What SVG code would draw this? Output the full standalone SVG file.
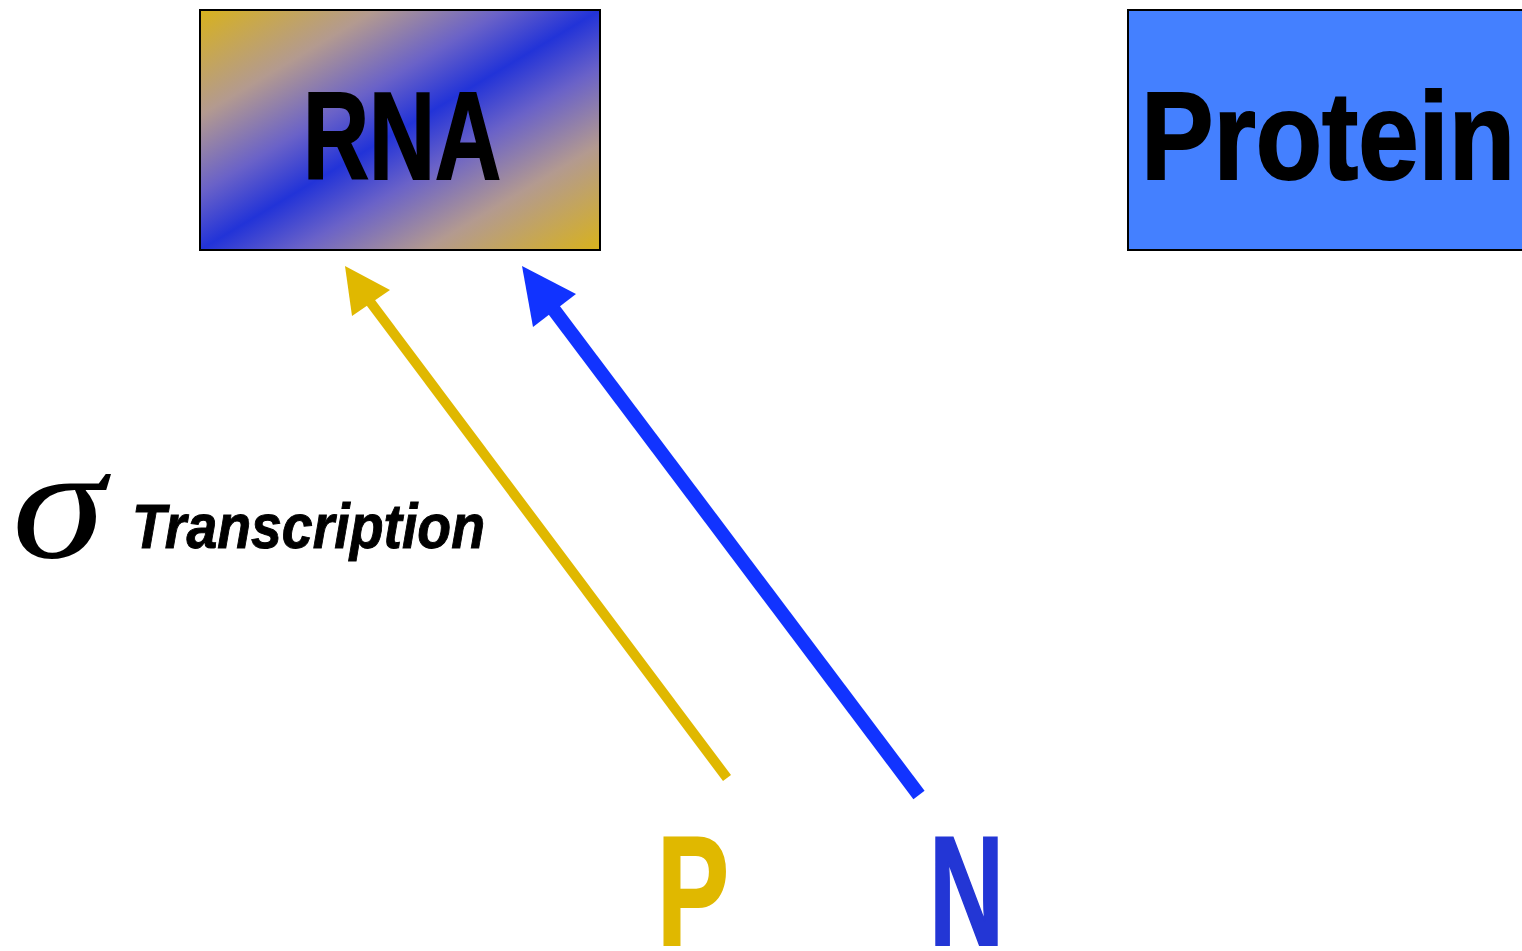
<svg xmlns="http://www.w3.org/2000/svg" width="1522" height="951" viewBox="0 0 1522 951">
<defs>
<linearGradient id="rnaGrad" x1="0" y1="0" x2="1" y2="1">
<stop offset="0" stop-color="#D8B21C"/>
<stop offset="0.22" stop-color="#B39A90"/>
<stop offset="0.38" stop-color="#6A62C8"/>
<stop offset="0.5" stop-color="#2233D8"/>
<stop offset="0.62" stop-color="#6A62C8"/>
<stop offset="0.78" stop-color="#B39A90"/>
<stop offset="1" stop-color="#D8B21C"/>
</linearGradient>
<style>
.box{stroke:#000;stroke-width:2}
.lbl{font-family:"Liberation Sans",Arial,sans-serif;font-weight:bold}
.big{fill:#000;stroke:#000;stroke-width:2}
</style>
</defs>
<rect width="1522" height="951" fill="#fff"/>
<g id="rna">
<rect class="box" x="200" y="10" width="400" height="240" fill="url(#rnaGrad)"/>
<text class="lbl big" x="303" y="179" font-size="124" textLength="198" lengthAdjust="spacingAndGlyphs">RNA</text>
</g>
<g id="protein">
<rect class="box" x="1128" y="10" width="400" height="240" fill="#4480FF"/>
<text class="lbl big" x="1141" y="179" font-size="124" textLength="374" lengthAdjust="spacingAndGlyphs">Protein</text>
</g>
<g id="transcription">
<text x="12" y="557" font-family="Liberation Serif,Times New Roman,serif" font-style="italic" font-size="160" fill="#000" textLength="93" lengthAdjust="spacingAndGlyphs">σ</text>
<text class="lbl" x="132" y="548" font-size="63" font-style="italic" fill="#000" stroke="#000" stroke-width="1" textLength="353" lengthAdjust="spacingAndGlyphs">Transcription</text>
</g>
<g id="p">
<text class="lbl" x="657" y="945" font-size="156" fill="#E0B800" stroke="#E0B800" stroke-width="2" textLength="72" lengthAdjust="spacingAndGlyphs">P</text>
</g>
<g id="n">
<text class="lbl" x="929" y="945" font-size="156" fill="#2336D5" stroke="#2336D5" stroke-width="2" textLength="75" lengthAdjust="spacingAndGlyphs">N</text>
</g>
<g id="connectors">
<line x1="727" y1="778" x2="368" y2="299" stroke="#E0B800" stroke-width="10"/>
<polygon points="345,266 390,290 352,316" fill="#E0B800"/>
<line x1="919" y1="795" x2="551" y2="306" stroke="#1133FF" stroke-width="14"/>
<polygon points="522,266 576,294 533,327" fill="#1133FF"/>
</g>
</svg>
